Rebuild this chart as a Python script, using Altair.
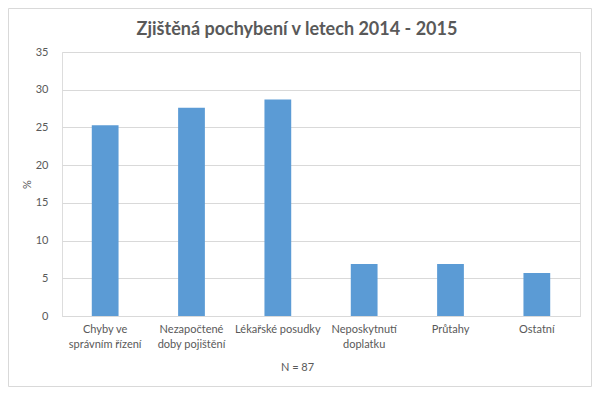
import altair as alt
import pandas as pd

categories = ["Chyby ve\nsprávním řízení", "Nezapočtené\ndoby pojištění", "Lékařské posudky",
              "Neposkytnutí\ndoplatku", "Průtahy", "Ostatní"]
values = [25.3, 27.6, 28.7, 6.9, 6.9, 5.7]
y_ticks = [0, 5, 10, 15, 20, 25, 30, 35]

df = pd.DataFrame({"kategorie": categories, "procenta": values})

W, H = 518, 264
FONT = "Lato"
GRAY = "#595959"

bars = alt.Chart(df).mark_bar(color="#5b9bd5").encode(
    x=alt.X("kategorie:N", sort=categories,
            scale=alt.Scale(paddingInner=0.69, paddingOuter=0.345),
            axis=alt.Axis(title="N = 87", labelAngle=0, labelExpr="split(datum.label, '\\n')",
                          labelLineHeight=15, labelPadding=7, ticks=False,
                          domainColor="#d9d9d9", labelColor=GRAY, labelFont=FONT, labelFontSize=11,
                          titleColor=GRAY, titleFont=FONT, titleFontSize=11, titleFontWeight="normal",
                          titlePadding=12, titleX=235, grid=False)),
    y=alt.Y("procenta:Q", scale=alt.Scale(domain=[0, 35]),
            axis=alt.Axis(title="%", values=y_ticks, ticks=False, domain=False, gridColor="#d9d9d9",
                          labelColor=GRAY, labelFont=FONT, labelFontSize=11, labelPadding=14,
                          titleColor=GRAY, titleFont=FONT, titleFontSize=11, titleFontWeight="normal",
                          titlePadding=3)),
)

border = alt.Chart(alt.Data(values=[{}])).mark_rect(fill=None, stroke="#d9d9d9", strokeWidth=1).encode(
    x=alt.value(-53.5), x2=alt.value(W + 11.5), y=alt.value(-43.5), y2=alt.value(H + 70.5)
)

chart = alt.layer(bars, border).properties(
    width=W, height=H,
    autosize=alt.AutoSizeParams(type="none"),
    padding={"left": 54, "top": 44, "right": 12, "bottom": 71},
    title=alt.Title("Zjištěná pochybení v letech 2014 - 2015", font=FONT, fontSize=18,
                    fontWeight="bold", color=GRAY, anchor="middle", frame="group",
                    dx=-24, offset=-31),
).configure_view(stroke=None).configure(background="white")

chart.save("out.html", embed_options={"renderer": "svg", "actions": False})
